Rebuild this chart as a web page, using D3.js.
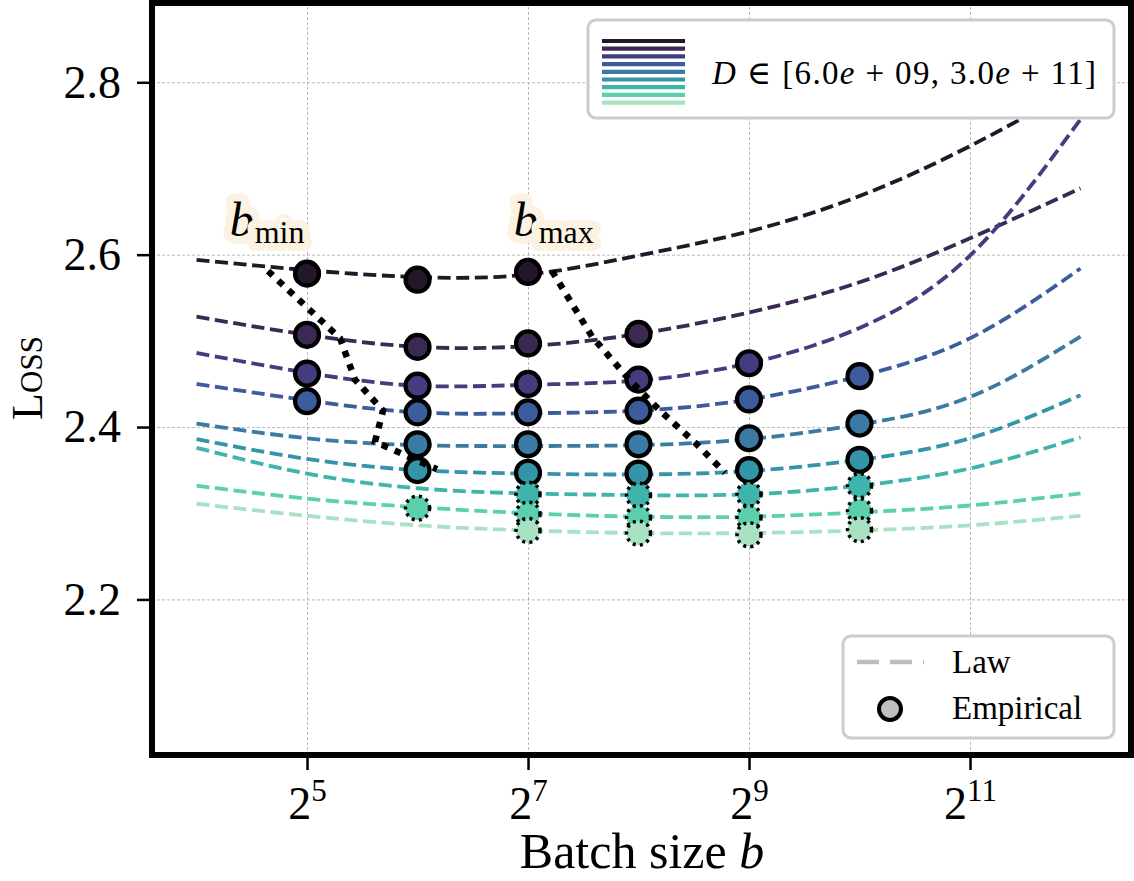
<!DOCTYPE html>
<html lang="en">
	<head>
		<meta charset="utf-8">
		<title>batch size law</title>
		<script src="https://d3js.org/d3.v7.min.js"></script>
		<style type="text/css">
		body { margin:0; background:#fff; }
		svg { display:block; }
		text { font-family: "Liberation Serif", "DejaVu Serif", serif; fill:#000; }
		.tick line { stroke:#000; stroke-width:2.5; }
		.grid line { stroke:#b0b0b0; stroke-width:0.9; stroke-dasharray:3,2; }
		.grid path, .axis path { display:none; }
		</style>
	</head>
	<body>
		<div id="chart"></div>
		<script type="text/javascript">

		// batch sizes of the runs (x), log2 grid used for the fitted law
		var batchSizes = [32, 64, 128, 256, 512, 1024];
		var lawExponents = [4, 5, 6, 7, 8, 9, 10, 11, 12];

		// one colour per data size D, from 6e9 (dark) to 3e11 (light)
		var colors = ["#231729", "#3b2853", "#433d7f", "#3c5c9d", "#3a7aa3",
			"#3595a8", "#3fb4ad", "#5ccfac", "#a8e2c2"];

		// empirical losses, one row per D (null = no run)
		var empirical = [
			[2.578, 2.571, 2.580, null, null, null],
			[2.507, 2.493, 2.497, 2.508, null, null],
			[2.462, 2.448, 2.450, 2.455, 2.474, null],
			[2.430, 2.417, 2.417, 2.419, 2.432, 2.459],
			[null, 2.380, 2.380, 2.380, 2.387, 2.404],
			[null, 2.350, 2.347, 2.346, 2.350, 2.362],
			[null, null, 2.322, 2.321, 2.322, 2.332],
			[null, 2.306, 2.299, 2.295, 2.295, 2.303],
			[null, null, 2.280, 2.277, 2.275, 2.281]
		];
		// rows drawn with a dotted outline
		var dottedRows = [6, 7, 8];

		// fitted law read at b = 2^4 ... 2^12
		var law = [
			[2.594, 2.582, 2.574, 2.577, 2.599, 2.627, 2.668, 2.726, 2.796],
			[2.528, 2.507, 2.493, 2.494, 2.508, 2.533, 2.568, 2.619, 2.677],
			[2.486, 2.463, 2.448, 2.449, 2.454, 2.474, 2.515, 2.599, 2.757],
			[2.450, 2.431, 2.417, 2.416, 2.419, 2.432, 2.459, 2.503, 2.584],
			[2.404, 2.387, 2.379, 2.378, 2.379, 2.386, 2.403, 2.435, 2.505],
			[2.386, 2.363, 2.350, 2.346, 2.345, 2.349, 2.362, 2.387, 2.437],
			[2.376, 2.346, 2.329, 2.323, 2.321, 2.322, 2.332, 2.352, 2.388],
			[2.332, 2.317, 2.307, 2.300, 2.296, 2.296, 2.301, 2.309, 2.323],
			[2.311, 2.297, 2.286, 2.280, 2.277, 2.277, 2.280, 2.286, 2.297]
		];

		// b_min / b_max frontier (log2 b, loss)
		var bminExp = [4.647, 5.299, 5.434, 5.688, 5.615, 6.176];
		var bminLoss = [2.581, 2.503, 2.455, 2.419, 2.383, 2.351];
		var bmaxExp = [7.217, 7.579, 7.923, 8.195, 8.511, 8.783];
		var bmaxLoss = [2.581, 2.505, 2.454, 2.419, 2.382, 2.347];

		var xTicks = [32, 128, 512, 2048];
		var xTickExp = ["5", "7", "9", "11"];
		var yTicks = [2.2, 2.4, 2.6, 2.8];

		//sizes
		var w = 1134, h = 881;
		var padL = 152, padR = 1131, padT = 3, padB = 755;

		var x = d3.scaleLog().base(2)
			.domain([Math.pow(2, 3.597), Math.pow(2, 12.457)])
			.range([padL, padR]);
		var y = d3.scaleLinear()
			.domain([2.0195, 2.892])
			.range([padB, padT]);

		var svg = d3.select("#chart")
			.append("svg")
			.attr("width", w)
			.attr("height", h);

		// grid
		svg.append("g")
			.attr("class", "grid")
			.attr("transform", "translate(0," + padB + ")")
			.call(d3.axisBottom(x).tickValues(xTicks).tickSize(-(padB - padT)).tickFormat(""));
		svg.append("g")
			.attr("class", "grid")
			.attr("transform", "translate(" + padL + ",0)")
			.call(d3.axisLeft(y).tickValues(yTicks).tickSize(-(padR - padL)).tickFormat(""));

		// law curves
		var lawLine = d3.line()
			.x(function(d) { return x(Math.pow(2, d[0])); })
			.y(function(d) { return y(d[1]); })
			.curve(d3.curveNatural);

		svg.append("g").selectAll("path")
			.data(law)
			.enter()
			.append("path")
			.attr("d", function(row) {
				return lawLine(row.map(function(v, i) { return [lawExponents[i], v]; }));
			})
			.attr("fill", "none")
			.attr("stroke", function(d, i) { return colors[i]; })
			.attr("stroke-width", 3.8)
			.attr("stroke-dasharray", "13,5.6");

		// empirical points
		var pts = [];
		empirical.forEach(function(row, i) {
			row.forEach(function(v, j) {
				if (v !== null) pts.push({ s: i, b: batchSizes[j], loss: v });
			});
		});

		svg.append("g").selectAll("circle")
			.data(pts)
			.enter()
			.append("circle")
			.attr("cx", function(d) { return x(d.b); })
			.attr("cy", function(d) { return y(d.loss); })
			.attr("r", 12)
			.attr("fill", function(d) { return colors[d.s]; })
			.attr("stroke", "#000")
			.attr("stroke-width", function(d) { return dottedRows.indexOf(d.s) >= 0 ? 3.5 : 4.2; })
			.attr("stroke-dasharray", function(d) { return dottedRows.indexOf(d.s) >= 0 ? "3,4.2" : null; });

		// frontier paths
		var frontier = d3.line()
			.x(function(d) { return x(Math.pow(2, d[0])); })
			.y(function(d) { return y(d[1]); });

		[[bminExp, bminLoss], [bmaxExp, bmaxLoss]].forEach(function(p) {
			svg.append("path")
				.attr("d", frontier(p[0].map(function(e, i) { return [e, p[1][i]]; })))
				.attr("fill", "none")
				.attr("stroke", "#000")
				.attr("stroke-width", 6.5)
				.attr("stroke-dasharray", "6.5,7.5");
		});

		// b_min / b_max labels with a glow
		function glowLabel(px, sub) {
			var t = svg.append("text")
				.attr("x", px)
				.attr("y", 236)
				.attr("stroke", "#fcf2e2")
				.attr("stroke-width", 16)
				.attr("stroke-linejoin", "round")
				.attr("paint-order", "stroke");
			t.append("tspan").attr("font-style", "italic").attr("font-size", 48).text("b");
			t.append("tspan").attr("font-size", 32).attr("dy", 7).attr("dx", 1).text(sub);
		}
		glowLabel(x(Math.pow(2, 4.3)), "min");
		glowLabel(x(Math.pow(2, 6.87)), "max");

		// frame
		svg.append("rect")
			.attr("x", padL)
			.attr("y", padT)
			.attr("width", padR - padL)
			.attr("height", padB - padT)
			.attr("fill", "none")
			.attr("stroke", "#000")
			.attr("stroke-width", 6);

		// axes
		var xAxis = svg.append("g")
			.attr("class", "axis")
			.attr("transform", "translate(0," + (padB + 3) + ")")
			.call(d3.axisBottom(x).tickValues(xTicks).tickSize(12).tickPadding(12).tickFormat(""));
		xAxis.selectAll(".tick text")
			.each(function(d, i) {
				var t = d3.select(this)
					.attr("y", 61)
					.attr("dy", null)
					.attr("text-anchor", "middle")
					.attr("font-size", 46);
				t.append("tspan").text("2");
				t.append("tspan").attr("font-size", 31).attr("dy", -18).text(xTickExp[i]);
			});

		var yAxis = svg.append("g")
			.attr("class", "axis")
			.attr("transform", "translate(" + (padL - 3) + ",0)")
			.call(d3.axisLeft(y).tickValues(yTicks).tickSize(12).tickPadding(16).tickFormat(d3.format(".1f")));
		yAxis.selectAll(".tick text")
			.attr("font-size", 46)
			.attr("fill", "#000")
			.attr("font-family", null);

		// axis labels
		var xl = svg.append("text")
			.attr("x", 642)
			.attr("y", 868)
			.attr("text-anchor", "middle")
			.attr("font-size", 50);
		xl.append("tspan").text("Batch size ");
		xl.append("tspan").attr("font-style", "italic").text("b");

		svg.append("text")
			.attr("transform", "translate(42,378) rotate(-90)")
			.attr("text-anchor", "middle")
			.attr("font-size", 44)
			.style("font-variant", "small-caps")
			.text("Loss");

		// D legend
		var lg = svg.append("g");
		lg.append("rect")
			.attr("x", 588).attr("y", 20)
			.attr("width", 526).attr("height", 98)
			.attr("rx", 8)
			.attr("fill", "#fff")
			.attr("stroke", "#cccccc")
			.attr("stroke-width", 3);
		lg.selectAll("line")
			.data(colors)
			.enter()
			.append("line")
			.attr("x1", 602).attr("x2", 685)
			.attr("y1", function(d, i) { return 41 + i * 7.7; })
			.attr("y2", function(d, i) { return 41 + i * 7.7; })
			.attr("stroke", function(d) { return d; })
			.attr("stroke-width", 4.2);
		var dt = lg.append("text")
			.attr("x", 712)
			.attr("y", 84)
			.attr("font-size", 33)
			.attr("textLength", 384)
			.attr("lengthAdjust", "spacing");
		dt.append("tspan").attr("font-style", "italic").text("D");
		dt.append("tspan").text(" \u2208 [6.0");
		dt.append("tspan").attr("font-style", "italic").text("e");
		dt.append("tspan").text(" + 09, 3.0");
		dt.append("tspan").attr("font-style", "italic").text("e");
		dt.append("tspan").text(" + 11]");

		// Law / Empirical legend
		var lg2 = svg.append("g");
		lg2.append("rect")
			.attr("x", 843).attr("y", 636)
			.attr("width", 271).attr("height", 102)
			.attr("rx", 8)
			.attr("fill", "#fff")
			.attr("stroke", "#cccccc")
			.attr("stroke-width", 3);
		lg2.append("line")
			.attr("x1", 857).attr("x2", 924)
			.attr("y1", 662).attr("y2", 662)
			.attr("stroke", "#bdbdbd")
			.attr("stroke-width", 4.5)
			.attr("stroke-dasharray", "22,11");
		lg2.append("circle")
			.attr("cx", 890).attr("cy", 709)
			.attr("r", 11)
			.attr("fill", "#bfbfbf")
			.attr("stroke", "#000")
			.attr("stroke-width", 4);
		lg2.append("text").attr("x", 952).attr("y", 673).attr("font-size", 33).text("Law");
		lg2.append("text").attr("x", 952).attr("y", 719).attr("font-size", 33).text("Empirical");

		</script>
	</body>
</html>
